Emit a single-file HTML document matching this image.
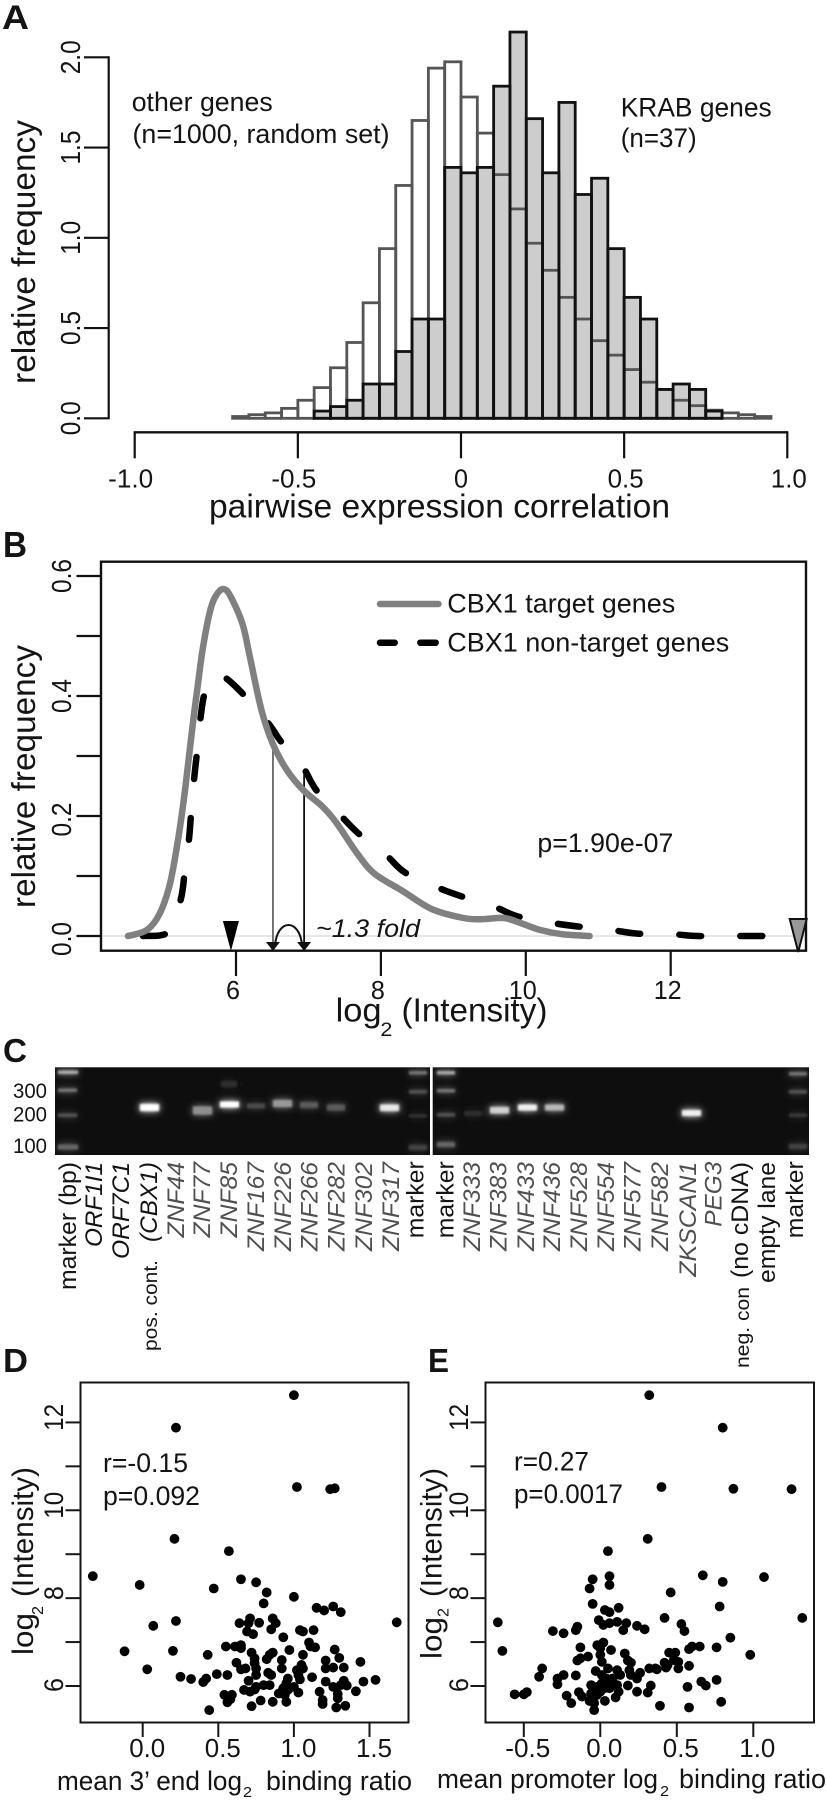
<!DOCTYPE html>
<html><head><meta charset="utf-8"><title>Figure</title>
<style>
html,body{margin:0;padding:0;background:#fff}
svg{display:block}
text{font-family:"Liberation Sans",sans-serif;fill:#141414}
.it{font-style:italic}
.g{fill:#505050}
</style></head>
<body>
<svg id="fig" xmlns="http://www.w3.org/2000/svg" width="826" height="1800" viewBox="0 0 826 1800">
<defs><filter id="bl" x="-60%" y="-150%" width="220%" height="400%">
<feGaussianBlur in="SourceGraphic" stdDeviation="3.6" result="a"/>
<feGaussianBlur in="SourceGraphic" stdDeviation="1.1" result="b"/>
<feMerge><feMergeNode in="a"/><feMergeNode in="b"/></feMerge>
</filter>
<clipPath id="gelClip"><rect x="55" y="1067.3" width="375" height="87.7"/><rect x="432.7" y="1067.3" width="376.3" height="87.7"/></clipPath></defs>
<rect width="826" height="1800" fill="#fff"/>

<!-- Panel letters -->
<text x="2" y="29" font-size="34" font-weight="bold" textLength="27" lengthAdjust="spacingAndGlyphs">A</text>
<text x="3" y="557" font-size="36" font-weight="bold" textLength="24" lengthAdjust="spacingAndGlyphs">B</text>
<text x="3" y="1062" font-size="33" font-weight="bold" textLength="24" lengthAdjust="spacingAndGlyphs">C</text>
<text x="3" y="1372" font-size="33" font-weight="bold" textLength="25" lengthAdjust="spacingAndGlyphs">D</text>
<text x="428" y="1372" font-size="33" font-weight="bold" textLength="21" lengthAdjust="spacingAndGlyphs">E</text>

<!-- Panel A -->
<g id="panelA"></g>
<text transform="translate(35,384) rotate(-90)" font-size="33" textLength="264" lengthAdjust="spacingAndGlyphs">relative frequency</text>
<text x="209" y="517.5" font-size="33" textLength="461" lengthAdjust="spacingAndGlyphs">pairwise expression correlation</text>
<text x="131.7" y="111" font-size="27" textLength="141" lengthAdjust="spacingAndGlyphs">other genes</text>
<text x="132.5" y="143" font-size="27" textLength="257" lengthAdjust="spacingAndGlyphs">(n=1000, random set)</text>
<text x="620.7" y="116.4" font-size="27" textLength="151" lengthAdjust="spacingAndGlyphs">KRAB genes</text>
<text x="620.7" y="147" font-size="27" textLength="76" lengthAdjust="spacingAndGlyphs">(n=37)</text>

<!-- Panel B -->
<g id="panelB"></g>
<text transform="translate(35,908) rotate(-90)" font-size="33" textLength="263" lengthAdjust="spacingAndGlyphs">relative frequency</text>
<text x="335.6" y="1021.5" font-size="33" textLength="46" lengthAdjust="spacingAndGlyphs">log</text>
<text x="380.4" y="1036" font-size="19" textLength="12" lengthAdjust="spacingAndGlyphs">2</text>
<text x="401.5" y="1021.5" font-size="33" textLength="146" lengthAdjust="spacingAndGlyphs">(Intensity)</text>
<line x1="380" y1="604" x2="438.5" y2="604" stroke="#808080" stroke-width="6.5" stroke-linecap="round"/>
<line x1="380" y1="642.7" x2="394.7" y2="642.7" stroke="#000" stroke-width="6.5" stroke-linecap="round"/>
<line x1="420.3" y1="642.7" x2="435.7" y2="642.7" stroke="#000" stroke-width="6.5" stroke-linecap="round"/>
<text x="447.3" y="612.7" font-size="27" textLength="228" lengthAdjust="spacingAndGlyphs">CBX1 target genes</text>
<text x="447.3" y="651.7" font-size="27" textLength="282" lengthAdjust="spacingAndGlyphs">CBX1 non-target genes</text>
<text x="537.4" y="852" font-size="27" textLength="136" lengthAdjust="spacingAndGlyphs">p=1.90e-07</text>
<text x="316" y="937" class="it" font-size="25" textLength="104" lengthAdjust="spacingAndGlyphs">~1.3 fold</text>

<!-- Panel C gel -->
<g>
<rect x="55" y="1067.3" width="375" height="87.7" fill="#0e0e0e"/>
<rect x="432.7" y="1067.3" width="376.3" height="87.7" fill="#0e0e0e"/>
<g clip-path="url(#gelClip)">
<g filter="url(#bl)">
<g>
<rect x="58" y="1070.5" width="20" height="3.5" fill="#b0b0b0"/><rect x="58" y="1088.5" width="19" height="3.5" fill="#777"/><rect x="58" y="1113.5" width="19" height="3.5" fill="#555"/><rect x="58" y="1144.5" width="20" height="5" fill="#666"/>
<rect x="409" y="1071" width="18" height="3.5" fill="#777"/><rect x="409" y="1090" width="18" height="3.5" fill="#555"/><rect x="409" y="1114" width="18" height="3.5" fill="#333"/><rect x="409" y="1145" width="18" height="5" fill="#444"/>
<rect x="437" y="1071" width="18" height="3.5" fill="#aaa"/><rect x="437" y="1089" width="18" height="3.5" fill="#777"/><rect x="437" y="1113" width="18" height="3.5" fill="#555"/><rect x="437" y="1142" width="18" height="5" fill="#666"/>
<rect x="789" y="1072" width="18" height="3.5" fill="#777"/><rect x="789" y="1090" width="18" height="3.5" fill="#555"/><rect x="789" y="1113.5" width="18" height="3.5" fill="#3a3a3a"/><rect x="789" y="1144" width="18" height="5" fill="#444"/>
</g>
<rect x="140" y="1104" width="19" height="7" fill="#fff"/>
<rect x="193" y="1106.5" width="19" height="8" fill="#8f8f8f"/>
<rect x="220" y="1101.5" width="19" height="6" fill="#fff"/>
<rect x="221" y="1081" width="16" height="6" fill="#2e2e2e"/>
<rect x="247" y="1103.5" width="18" height="5" fill="#4c4c4c"/>
<rect x="273" y="1100" width="19" height="7" fill="#999"/>
<rect x="300" y="1102" width="18" height="6" fill="#5a5a5a"/>
<rect x="327" y="1104.5" width="18" height="6" fill="#5c5c5c"/>
<rect x="380" y="1104.5" width="19" height="6.5" fill="#e8e8e8"/>
<rect x="464" y="1111" width="18" height="5" fill="#2e2e2e"/>
<rect x="490" y="1107" width="19" height="6.5" fill="#d0d0d0"/>
<rect x="518" y="1104.5" width="19" height="6" fill="#f0f0f0"/>
<rect x="545" y="1104.5" width="19" height="6" fill="#b8b8b8"/>
<rect x="682" y="1110" width="19" height="6" fill="#f0f0f0"/>
</g>
</g>
</g>
<g font-size="21.5">
<text x="13" y="1098" textLength="34" lengthAdjust="spacingAndGlyphs">300</text>
<text x="13" y="1121.7" textLength="34" lengthAdjust="spacingAndGlyphs">200</text>
<text x="13" y="1153" textLength="34" lengthAdjust="spacingAndGlyphs">100</text>
</g>
<g font-size="24.5">
<text transform="translate(76,1290) rotate(-90)" textLength="128" lengthAdjust="spacingAndGlyphs">marker (bp)</text>
<text class="it" transform="translate(102,1247) rotate(-90)" textLength="85" lengthAdjust="spacingAndGlyphs">ORF1I1</text>
<text class="it" transform="translate(129,1259) rotate(-90)" textLength="97" lengthAdjust="spacingAndGlyphs">ORF7C1</text>
<text class="it" transform="translate(157,1242) rotate(-90)" textLength="80" lengthAdjust="spacingAndGlyphs">(CBX1)</text>
<text transform="translate(157,1351) rotate(-90)" font-size="19" textLength="91" lengthAdjust="spacingAndGlyphs">pos. cont.</text>
<text class="it g" transform="translate(184,1237.5) rotate(-90)" textLength="75.5" lengthAdjust="spacingAndGlyphs">ZNF44</text>
<text class="it g" transform="translate(210,1237.5) rotate(-90)" textLength="75.5" lengthAdjust="spacingAndGlyphs">ZNF77</text>
<text class="it g" transform="translate(237,1237.5) rotate(-90)" textLength="75.5" lengthAdjust="spacingAndGlyphs">ZNF85</text>
<text class="it g" transform="translate(264,1251) rotate(-90)" textLength="89" lengthAdjust="spacingAndGlyphs">ZNF167</text>
<text class="it g" transform="translate(291,1251) rotate(-90)" textLength="89" lengthAdjust="spacingAndGlyphs">ZNF226</text>
<text class="it g" transform="translate(317.5,1251) rotate(-90)" textLength="89" lengthAdjust="spacingAndGlyphs">ZNF266</text>
<text class="it g" transform="translate(344.5,1251) rotate(-90)" textLength="89" lengthAdjust="spacingAndGlyphs">ZNF282</text>
<text class="it g" transform="translate(372,1251) rotate(-90)" textLength="89" lengthAdjust="spacingAndGlyphs">ZNF302</text>
<text class="it g" transform="translate(399,1251) rotate(-90)" textLength="89" lengthAdjust="spacingAndGlyphs">ZNF317</text>
<text transform="translate(423.5,1238.3) rotate(-90)" textLength="77" lengthAdjust="spacingAndGlyphs">marker</text>
<text transform="translate(453.3,1238.3) rotate(-90)" textLength="77" lengthAdjust="spacingAndGlyphs">marker</text>
<text class="it g" transform="translate(480,1251) rotate(-90)" textLength="89" lengthAdjust="spacingAndGlyphs">ZNF333</text>
<text class="it g" transform="translate(506.7,1251) rotate(-90)" textLength="89" lengthAdjust="spacingAndGlyphs">ZNF383</text>
<text class="it g" transform="translate(534,1251) rotate(-90)" textLength="89" lengthAdjust="spacingAndGlyphs">ZNF433</text>
<text class="it g" transform="translate(560,1251) rotate(-90)" textLength="89" lengthAdjust="spacingAndGlyphs">ZNF436</text>
<text class="it g" transform="translate(587,1251) rotate(-90)" textLength="89" lengthAdjust="spacingAndGlyphs">ZNF528</text>
<text class="it g" transform="translate(614,1251) rotate(-90)" textLength="89" lengthAdjust="spacingAndGlyphs">ZNF554</text>
<text class="it g" transform="translate(640.7,1251) rotate(-90)" textLength="89" lengthAdjust="spacingAndGlyphs">ZNF577</text>
<text class="it g" transform="translate(668,1251) rotate(-90)" textLength="89" lengthAdjust="spacingAndGlyphs">ZNF582</text>
<text class="it g" transform="translate(696,1276.7) rotate(-90)" textLength="115" lengthAdjust="spacingAndGlyphs">ZKSCAN1</text>
<text class="it g" transform="translate(721.7,1226.7) rotate(-90)" textLength="65" lengthAdjust="spacingAndGlyphs">PEG3</text>
<text transform="translate(748,1278) rotate(-90)" textLength="116" lengthAdjust="spacingAndGlyphs">(no cDNA)</text>
<text transform="translate(749,1368) rotate(-90)" font-size="19" textLength="81" lengthAdjust="spacingAndGlyphs">neg. con</text>
<text transform="translate(775,1283) rotate(-90)" textLength="121" lengthAdjust="spacingAndGlyphs">empty lane</text>
<text transform="translate(803,1238.3) rotate(-90)" textLength="77" lengthAdjust="spacingAndGlyphs">marker</text>
</g>

<!-- Panel D -->
<g id="panelD"></g>
<text transform="translate(33,1655) rotate(-90)" font-size="30" textLength="42" lengthAdjust="spacingAndGlyphs">log</text>
<text transform="translate(43,1615) rotate(-90)" font-size="16" textLength="9" lengthAdjust="spacingAndGlyphs">2</text>
<text transform="translate(33,1597) rotate(-90)" font-size="30" textLength="130" lengthAdjust="spacingAndGlyphs">(Intensity)</text>
<text x="103" y="1472" font-size="26.4" textLength="85" lengthAdjust="spacingAndGlyphs">r=-0.15</text>
<text x="103" y="1505" font-size="26.4" textLength="97" lengthAdjust="spacingAndGlyphs">p=0.092</text>
<text x="57" y="1790" font-size="26.4" textLength="185" lengthAdjust="spacingAndGlyphs">mean 3’ end log</text>
<text x="243" y="1797" font-size="15" textLength="9" lengthAdjust="spacingAndGlyphs">2</text>
<text x="266" y="1790" font-size="26.4" textLength="146" lengthAdjust="spacingAndGlyphs">binding ratio</text>

<!-- Panel E -->
<g id="panelE"></g>
<text transform="translate(441.7,1659) rotate(-90)" font-size="30" textLength="42" lengthAdjust="spacingAndGlyphs">log</text>
<text transform="translate(448.5,1617) rotate(-90)" font-size="16" textLength="9" lengthAdjust="spacingAndGlyphs">2</text>
<text transform="translate(441.7,1597) rotate(-90)" font-size="30" textLength="129" lengthAdjust="spacingAndGlyphs">(Intensity)</text>
<text x="514" y="1470.7" font-size="26.4" textLength="75" lengthAdjust="spacingAndGlyphs">r=0.27</text>
<text x="514" y="1503" font-size="26.4" textLength="109" lengthAdjust="spacingAndGlyphs">p=0.0017</text>
<text x="437" y="1788" font-size="26.4" textLength="221" lengthAdjust="spacingAndGlyphs">mean promoter log</text>
<text x="660" y="1796" font-size="15" textLength="9" lengthAdjust="spacingAndGlyphs">2</text>
<text x="679" y="1788" font-size="26.4" textLength="147" lengthAdjust="spacingAndGlyphs">binding ratio</text>
</svg>
<script>
// ---- Panel A data
var binStarts=[-0.70,-0.65,-0.60,-0.55,-0.50,-0.45,-0.40,-0.35,-0.30,-0.25,-0.20,-0.15,-0.10,-0.05,0,0.05,0.10,0.15,0.20,0.25,0.30,0.35,0.40,0.45,0.50,0.55,0.60,0.65,0.70,0.75,0.80,0.85,0.90];
var otherFreq=[0.01,0.02,0.03,0.055,0.10,0.17,0.28,0.42,0.64,0.94,1.29,1.65,1.94,1.975,1.78,1.58,1.35,1.16,0.97,0.82,0.67,0.55,0.43,0.35,0.27,0.20,0.16,0.10,0.07,0.045,0.03,0.02,0.01];
var krabFreq=[0,0,0,0,0,0.04,0.065,0.10,0.19,0.19,0.37,0.55,0.55,1.39,1.36,1.39,1.84,2.14,1.66,1.36,1.75,1.24,1.33,0.94,0.67,0.55,0.16,0.19,0.16,0.04,0,0,0];
var aXTicks=[-1,-0.5,0,0.5,1];
var aXLabels=["-1.0","-0.5","0","0.5","1.0"];
var aYTicks=[0,0.5,1,1.5,2];
var aYLabels=["0.0","0.5","1.0","1.5","2.0"];
// ---- Panel B data
var targetX=[4.51,4.77,4.95,5.09,5.20,5.28,5.34,5.41,5.47,5.54,5.65,5.75,5.84,5.93,6.09,6.19,6.35,6.51,6.70,6.93,7.20,7.39,7.67,7.91,8.3,8.7,9.14,9.4,9.7,9.94,10.2,10.5,10.88];
var targetY=[0,0.01,0.038,0.088,0.16,0.227,0.288,0.36,0.415,0.478,0.545,0.572,0.578,0.565,0.52,0.466,0.377,0.32,0.277,0.243,0.215,0.188,0.138,0.104,0.075,0.045,0.03,0.028,0.03,0.021,0.01,0.003,0];
var nonTargetX=[4.715,5.075,5.235,5.29,5.35,5.38,5.42,5.47,5.51,5.566,5.69,5.834,6.10,6.45,6.615,6.92,7.11,7.45,7.69,8.07,8.33,8.76,9.09,9.56,9.88,10.35,10.71,11.18,11.54,12.01,12.37,12.82,13.2,13.76];
var nonTargetY=[0,0.007,0.06,0.104,0.16,0.204,0.26,0.315,0.363,0.404,0.435,0.432,0.403,0.354,0.325,0.282,0.243,0.2,0.171,0.135,0.106,0.082,0.067,0.049,0.033,0.022,0.016,0.01,0.004,0.003,0,0,0,0];
var bXTicks=[6,8,10,12];
var bYTicks=[0,0.1,0.2,0.3,0.4,0.5,0.6];
var bYLabelTicks=[0,0.2,0.4,0.6];
var bYLabels=["0.0","0.2","0.4","0.6"];
var foldArrows=[6.51,6.94];
var foldTops=[0.32,0.27];
var medianBlack=5.93;
var medianGray=13.76;
// ---- Panel D data
var dX=[1.00,.22,1.02,1.24,1.27,.21,.57,-.33,-.02,.65,.75,.47,.82,1.00,.80,1.15,1.20,1.26,1.31,1.68,.22,.07,.64,.71,.70,.77,.86,.88,.85,.69,.73,1.04,1.06,1.13,.93,-.12,.20,.55,.61,.65,.65,1.10,1.11,1.14,1.27,.97,.43,.72,.74,.74,.86,.84,.82,1.06,1.21,1.30,.92,.92,.62,.65,.68,.75,1.44,.03,.25,.32,.40,.42,.49,.56,.83,.85,1.02,1.05,1.06,1.03,1.04,1.12,1.21,1.26,1.33,.75,.70,1.21,1.33,1.26,1.31,1.35,1.46,1.54,1.41,1.17,1.29,1.29,1.19,1.19,1.28,1.34,.78,.86,.95,.72,.44,.56,.54,.59,.58,.67,.71,.74,.75,.80,.84,.96,.95,1.00,1.03,.93,.92,.90,.94,.96];
var dY=[12.62,11.88,10.53,10.48,10.50,9.35,9.07,8.50,8.30,8.43,8.36,8.22,8.13,8.03,7.88,7.78,7.72,7.81,7.68,7.45,7.48,7.37,7.43,7.54,7.43,7.44,7.54,7.43,7.29,7.24,7.18,7.27,7.24,7.27,7.11,6.79,6.80,6.90,6.90,6.93,6.86,6.99,6.90,6.88,6.83,6.82,6.71,6.76,6.63,6.52,6.76,6.71,6.61,6.71,6.58,6.64,6.59,6.40,6.53,6.38,6.40,6.40,6.55,6.38,6.21,6.16,6.09,6.17,6.27,6.25,6.30,6.25,6.36,6.48,6.40,6.25,6.15,6.20,6.40,6.42,6.42,6.25,6.12,6.10,6.12,5.98,6.02,6.01,6.10,6.14,5.88,5.87,5.82,5.72,5.68,5.59,5.51,5.55,5.67,5.64,5.64,5.54,5.45,5.63,5.80,5.80,5.70,5.91,5.87,5.92,5.98,6.02,6.02,6.17,6.06,5.98,5.85,5.95,5.87,5.83,5.80,5.91];
var dXTicks=[0,0.5,1,1.5];
var dXLabels=["0.0","0.5","1.0","1.5"];
var scYTicks=[6,7,8,9,10,11,12];
var scYLabelTicks=[6,8,10,12];
var scYLabels=["6","8","10","12"];
// ---- Panel E data
var eX=[.32,.80,.40,.87,1.25,.31,.05,.67,1.07,.06,.06,-.05,-.07,.80,.46,-.05,.78,.12,.03,.06,.42,1.32,-.01,-.67,.02,.06,.11,.17,.15,.24,.29,.53,.55,-.15,-.16,-.31,-.24,.85,.02,-.02,0,-.13,.60,.58,.65,.76,.07,-.64,.16,.98,.45,.49,-.08,-.13,-.15,0,.01,.18,.20,.42,.44,.48,.51,.51,.43,.58,.36,.32,.37,-.38,-.40,-.24,-.28,-.28,-.16,-.03,.05,.11,.13,.19,.20,.26,.24,.01,.04,.08,.01,.06,.11,-.06,-.02,.03,.18,.33,.31,.24,.66,.69,.76,.57,-.56,-.50,-.48,-.22,-.19,-.14,-.12,-.06,-.07,-.04,-.04,.03,.10,.39,.58,.79,.06,-.02,0,.12];
var eY=[12.62,11.88,10.53,10.49,10.48,9.35,9.07,8.52,8.48,8.50,8.30,8.43,8.22,8.37,8.13,7.87,7.81,7.78,7.73,7.68,7.55,7.55,7.50,7.45,7.39,7.43,7.46,7.43,7.27,7.37,7.29,7.41,7.25,7.35,7.27,7.25,7.20,7.10,6.99,6.93,6.86,6.88,6.90,6.84,6.90,6.88,6.82,6.80,6.74,6.71,6.76,6.76,6.67,6.63,6.58,6.71,6.55,6.58,6.53,6.53,6.48,6.59,6.55,6.40,6.42,6.46,6.40,6.40,6.38,6.40,6.21,6.25,6.17,6.04,6.24,6.34,6.40,6.36,6.25,6.36,6.25,6.30,6.17,6.25,6.17,6.17,6.06,6.06,6.02,6.02,5.98,5.95,6.01,6.01,5.85,5.87,6.10,6.01,6.14,5.98,5.81,5.81,5.86,5.78,5.61,5.86,5.76,5.83,5.66,5.61,5.45,5.66,5.74,5.55,5.51,5.64,5.95,5.80,5.87,5.87];
var eXTicks=[-0.5,0,0.5,1];
var eXLabels=["-0.5","0.0","0.5","1.0"];

var NS="http://www.w3.org/2000/svg";
function mk(parent,tag,attrs,name){
  var el=document.createElementNS(NS,tag);
  for(var k in attrs){el.setAttribute(k,attrs[k]);}
  
  
  parent.appendChild(el);
  return el;
}
function hLabel(p,cx,y,str,size,len,name){
  var t=mk(p,'text',{x:cx-len/2,y:y,'font-size':size,textLength:len,lengthAdjust:'spacingAndGlyphs'},name);
  t.textContent=str;
}
function vLabel(p,x,cy,str,size,len,name){
  var t=mk(p,'text',{transform:'translate('+x+','+(cy+len/2)+') rotate(-90)','font-size':size,textLength:len,lengthAdjust:'spacingAndGlyphs'},name);
  t.textContent=str;
}
function smooth(xs,ys,fx,fy){
  var P=xs.map(function(v,i){return [fx(v),fy(ys[i])];});
  var d='M'+P[0][0].toFixed(1)+' '+P[0][1].toFixed(1);
  for(var i=0;i<P.length-1;i++){
    var a=P[Math.max(i-1,0)],b=P[i],c=P[i+1],e=P[Math.min(i+2,P.length-1)];
    d+=' C'+(b[0]+(c[0]-a[0])/6).toFixed(1)+' '+(b[1]+(c[1]-a[1])/6).toFixed(1)+' '+(c[0]-(e[0]-b[0])/6).toFixed(1)+' '+(c[1]-(e[1]-b[1])/6).toFixed(1)+' '+c[0].toFixed(1)+' '+c[1].toFixed(1);
  }
  return d;
}
// ---- Panel A
(function(){
  var g=document.getElementById('panelA');
  function x(v){return 461+v*326.3;}
  function y(v){return 418.3-v*180.5;}
  var w=0.05;
  binStarts.forEach(function(b,i){
    if(krabFreq[i]>0){
      mk(g,'rect',{x:x(b),y:y(krabFreq[i]),width:x(b+w)-x(b),height:y(0)-y(krabFreq[i]),fill:'#cdcdcd'},'krab-bar-fill');
    }
  });
  binStarts.forEach(function(b,i){
    mk(g,'rect',{x:x(b),y:y(otherFreq[i]),width:x(b+w)-x(b),height:y(0)-y(otherFreq[i]),fill:'none',stroke:'#555',
      'stroke-width':2.8},'other-genes-bar');
  });
  binStarts.forEach(function(b,i){
    if(krabFreq[i]>0){
      mk(g,'rect',{x:x(b),y:y(krabFreq[i]),width:x(b+w)-x(b),height:y(0)-y(krabFreq[i]),fill:'none',stroke:'#111','stroke-width':2.8},'krab-genes-bar');
    }
  });
  mk(g,'line',{x1:x(-1)-1,x2:x(1)+1,y1:432.3,y2:432.3,stroke:'#111','stroke-width':2.4},'a-x-axis-line');
  aXTicks.forEach(function(t,i){
    mk(g,'line',{x1:x(t),x2:x(t),y1:432.3,y2:458.3,stroke:'#111','stroke-width':2.2},'a-x-tick');
    hLabel(g,x(t)+(t<0?-4:t>0?1.5:0),487.5,aXLabels[i],26,t===0?14:(t<0?45:36),'a-x-tick-label');
  });
  mk(g,'line',{x1:108.7,x2:108.7,y1:y(0)+1,y2:y(2)-1,stroke:'#111','stroke-width':2.2},'a-y-axis-line');
  aYTicks.forEach(function(t,i){
    mk(g,'line',{x1:84,x2:108.7,y1:y(t),y2:y(t),stroke:'#111','stroke-width':2.2},'a-y-tick');
    vLabel(g,80,y(t),aYLabels[i],27.5,34,'a-y-tick-label');
  });
})();
// ---- Panel B
(function(){
  var g=document.getElementById('panelB');
  function x(v){return 236+(v-6)*72.45;}
  function y(v){return 936-v*600;}
  mk(g,'line',{x1:101,x2:806,y1:y(0),y2:y(0),stroke:'#cfcfcf','stroke-width':1},'b-zero-line');
  mk(g,'path',{d:smooth(nonTargetX,nonTargetY,x,y),fill:'none',stroke:'#000','stroke-width':6.5,'stroke-linecap':'round','stroke-dasharray':'22 39'},'nontarget-density-line');
  mk(g,'line',{x1:x(foldArrows[0]),x2:x(foldArrows[0]),y1:y(foldTops[0]),y2:948,stroke:'#666','stroke-width':1.8},'fold-arrow-target');
  mk(g,'line',{x1:x(foldArrows[1]),x2:x(foldArrows[1]),y1:y(foldTops[1]),y2:948,stroke:'#111','stroke-width':1.8},'fold-arrow-nontarget');
  foldArrows.forEach(function(v){
    var c=x(v);
    mk(g,'polygon',{points:(c-7)+',942 '+(c+7)+',942 '+c+',951',fill:'#111'},'fold-arrowhead');
  });
  var a=x(foldArrows[0]),b=x(foldArrows[1]);
  mk(g,'path',{d:'M'+(a+2)+' 946 C'+(a+4)+' 918 '+(b-4)+' 918 '+(b-2)+' 946',fill:'none',stroke:'#111','stroke-width':2},'fold-arc');
  mk(g,'path',{d:smooth(targetX,targetY,x,y),fill:'none',stroke:'#808080','stroke-width':6.5,'stroke-linecap':'round'},'target-density-line');
  var m=x(medianBlack);
  mk(g,'polygon',{points:(m-8)+',921 '+(m+8)+',921 '+m+',951',fill:'#000'},'median-marker-black');
  mk(g,'rect',{x:101,y:561.7,width:705,height:389,fill:'none',stroke:'#111','stroke-width':2.4},'b-plot-frame');
  var n=x(medianGray);
  mk(g,'polygon',{points:(n-8.5)+',919 '+(n+8.5)+',919 '+n+',952',fill:'#999',stroke:'#111','stroke-width':2},'median-marker-gray');
  bXTicks.forEach(function(t){
    mk(g,'line',{x1:x(t),x2:x(t),y1:951,y2:976,stroke:'#111','stroke-width':2.2},'b-x-tick');
    hLabel(g,x(t)-3,999,String(t),26,t<10?14:28,'b-x-tick-label');
  });
  bYTicks.forEach(function(t){
    mk(g,'line',{x1:76.5,x2:101,y1:y(t),y2:y(t),stroke:'#111','stroke-width':2.2},'b-y-tick');
  });
  bYLabelTicks.forEach(function(t,i){
    vLabel(g,71,y(t)+(t===0?3:t===0.2?3.5:0),bYLabels[i],27.5,34,'b-y-tick-label');
  });
})();
// ---- Panels D, E
function scatter(id,xs,ys,x0,xk,xTicks,xLabels,fl,fr,tag,labelBase,ly,labelDx){
  var g=document.getElementById(id);
  function x(v){return x0+v*xk;}
  function y(v){return 1686-(v-6)*43.93;}
  xs.forEach(function(v,i){
    mk(g,'circle',{cx:x(v),cy:y(ys[i]),r:4.9,fill:'#000'},tag+'-point');
  });
  mk(g,'rect',{x:fl,y:1382.5,width:fr-fl,height:340,fill:'none',stroke:'#161616','stroke-width':2},tag+'-plot-frame');
  xTicks.forEach(function(t,i){
    mk(g,'line',{x1:x(t),x2:x(t),y1:1722.5,y2:1737,stroke:'#161616','stroke-width':2},tag+'-x-tick');
    hLabel(g,x(t)+labelDx,ly,xLabels[i],26,xLabels[i].length>3?45:36,tag+'-x-tick-label');
  });
  scYTicks.forEach(function(t){
    mk(g,'line',{x1:fl-15,x2:fl,y1:y(t),y2:y(t),stroke:'#161616','stroke-width':2},tag+'-y-tick');
  });
  scYLabelTicks.forEach(function(t,i){
    vLabel(g,labelBase,y(t)-(t===6?1:5),scYLabels[i],27,scYLabels[i].length>1?27:14,tag+'-y-tick-label');
  });
}
scatter('panelD',dX,dY,142.7,151.2,dXTicks,dXLabels,80.5,408.5,'d',63,1757,4.5);
scatter('panelE',eX,eY,600.3,153,eXTicks,eXLabels,485.5,814,'e',468,1757,4);
</script>
</body></html>
